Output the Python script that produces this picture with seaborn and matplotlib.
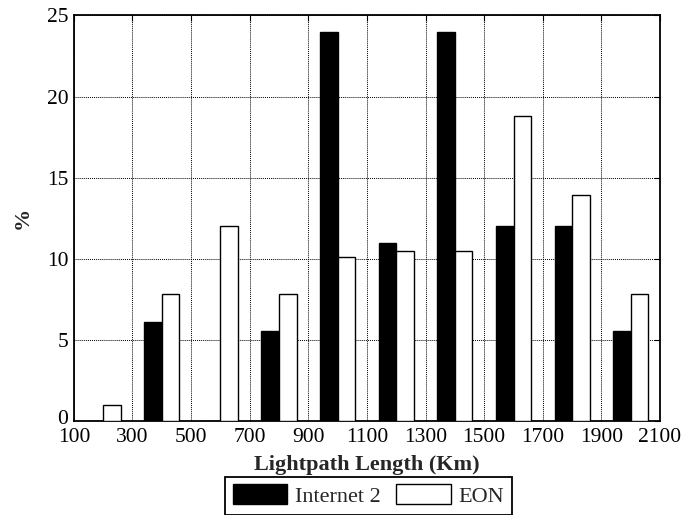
import numpy as np
import pandas as pd
import seaborn as sns
from matplotlib import pyplot as plt
from matplotlib import transforms

# bin centres (Km) and percentages
lengths = [200, 400, 600, 800, 1000, 1200, 1400, 1600, 1800, 2000]
internet2 = [0, 6.1, 0, 5.55, 24, 11, 24, 12, 12, 5.55]
eon = [1, 7.85, 12, 7.85, 10.1, 10.45, 10.45, 18.8, 13.95, 7.85]
series_names = ['Internet 2', 'EON']
xticks = list(range(100, 2101, 200))
yticks = [0, 5, 10, 15, 20, 25]

df = pd.DataFrame({'length': lengths * 2,
                   'pct': internet2 + eon,
                   'network': [series_names[0]] * len(lengths) + [series_names[1]] * len(lengths)})

sns.set_style('white')
plt.rcParams['font.family'] = ['Liberation Serif', 'DejaVu Serif']
plt.rcParams['font.size'] = 15.5

fig = plt.figure(figsize=(6.84, 5.15), dpi=100)
ax = fig.add_axes([0.108, 0.1825, 0.857, 0.7875])

sns.barplot(data=df, x='length', y='pct', hue='network', native_scale=True,
            palette={'Internet 2': 'black', 'EON': 'white'}, width=0.6,
            edgecolor='black', linewidth=1.0, ax=ax, zorder=3)

ax.set_xlim(100, 2100)
ax.set_ylim(0, 25)
ax.set_xticks(xticks)
ax.set_yticks(yticks)
ax.grid(True, which='major', linestyle=(0, (1, 1)), color='black', linewidth=0.7, zorder=0)
ax.set_axisbelow(True)
for s in ax.spines.values():
    s.set_color('black')
    s.set_linewidth(1.3)
    s.set_visible(True)
ax.tick_params(direction='in', length=4, width=0.8, top=True, right=True,
               labelsize=15.5, pad=5, colors='black')
ax.tick_params(axis='y', pad=4)

# nudge the "0" a little upward, like the original
lab0 = ax.get_yticklabels()[0]
lab0.set_transform(lab0.get_transform() + transforms.ScaledTranslation(0, 3 / 72, fig.dpi_scale_trans))

ax.set_xlabel('Lightpath Length (Km)', fontweight='bold', fontsize=16, labelpad=6)
ax.set_ylabel('%', fontweight='bold', fontsize=16, labelpad=10)

leg = ax.legend(loc='upper center', bbox_to_anchor=(0.5025, -0.137), ncol=2,
                fancybox=False, edgecolor='black', framealpha=1, fontsize=16,
                handlelength=2.45, handleheight=1.0, columnspacing=0.7,
                handletextpad=0.35, borderpad=0.35, borderaxespad=0)
leg.get_frame().set_linewidth(1.3)

plt.savefig('out.png', dpi=100)
